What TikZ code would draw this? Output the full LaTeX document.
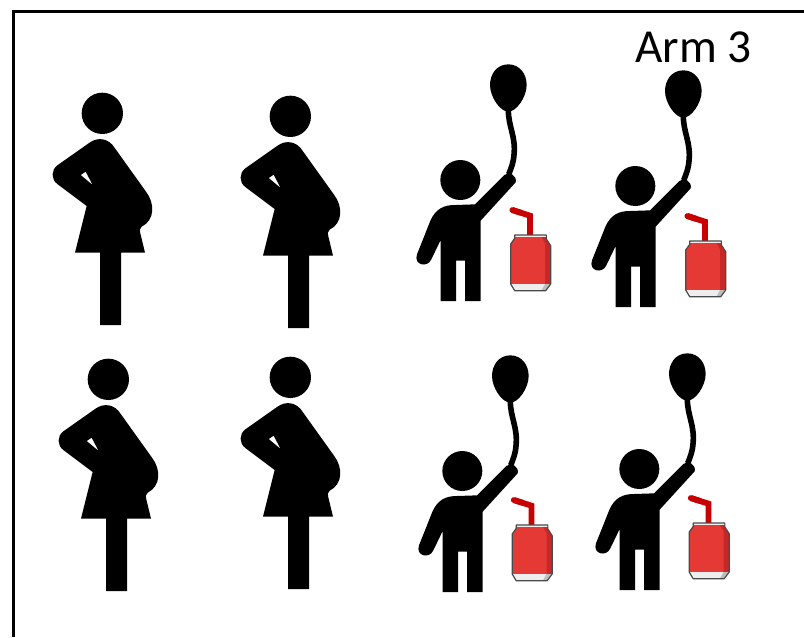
\documentclass[tikz,border=0pt]{standalone}
\usepackage{fontspec}
\setmainfont{Carlito}
\definecolor{canred}{HTML}{E53935}
\definecolor{candark}{HTML}{C62828}
\definecolor{canedge}{HTML}{4A4A4A}
\definecolor{canlight}{HTML}{EEEEEE}
\definecolor{canshade}{HTML}{BDBDBD}
\definecolor{strawred}{HTML}{C80000}
\tikzset{
  zoomed/.style={x=0.25pt,y=-0.25pt},
  woman/.pic={
    \begin{scope}[zoomed]
      \fill (187,100) circle[radius=62];
      \fill[even odd rule]
        (150,187) .. controls (172,172) and (205,172) .. (225,205)
        -- (318,335) .. controls (345,370) and (345,420) .. (305,440)
        .. controls (298,447) and (298,452) .. (301,460)
        -- (315,518) -- (243,518) -- (243,735) -- (180,735) -- (180,518) -- (105,518)
        -- (140,378) -- (52,312)
        .. controls (33,298) and (33,270) .. (52,256) -- cycle
        (122,285) -- (137,275) -- (158,315) -- cycle;
    \end{scope}
  },
  boy/.pic={
    \begin{scope}[zoomed]
      \fill (151,375) circle[radius=60];
      \fill (295,28) .. controls (330,28) and (350,58) .. (350,90)
        .. controls (350,125) and (320,170) .. (295,170)
        .. controls (270,170) and (240,125) .. (240,90)
        .. controls (240,58) and (260,28) .. (295,28) -- cycle;
      \draw[line width=4.2pt] (295,165) .. controls (295,215) and (318,245) .. (312,300)
        .. controls (310,325) and (303,340) .. (296,358);
      \fill (195,448) -- (283,360)
        .. controls (297,347) and (322,362) .. (317,382)
        -- (212,497) -- (212,738) -- (165,738) -- (165,617) -- (138,617) -- (138,738) -- (92,738)
        -- (92,555) -- (64,613)
        .. controls (52,640) and (10,630) .. (21,598)
        -- (62,495) .. controls (78,462) and (100,450) .. (135,450) -- cycle;
    \end{scope}
  },
  sodacan/.pic={
    \begin{scope}[zoomed]
      \draw[strawred,line width=4.4pt,line cap=round] (35,28) -- (60,36);
      \draw[strawred,line width=4.4pt,line join=miter] (35,28) -- (88,45) -- (88,104);
      \fill[canred] (42,103) -- (137,103) -- (137,115) -- (150,135) -- (150,250) -- (135,270)
        -- (42,270) -- (30,250) -- (30,130) -- (42,113) -- cycle;
      \fill[candark] (122,108) -- (137,108) -- (137,115) -- (150,135) -- (150,250) -- (133,250) -- (133,128) -- cycle;
      \fill[canlight] (42,103) -- (137,103) -- (137,108) -- (42,108) -- cycle;
      \fill[canlight] (30,250) -- (150,250) -- (135,270) -- (42,270) -- cycle;
      \fill[canshade] (133,250) -- (150,250) -- (135,270) -- (122,270) -- cycle;
      \draw[canedge,line width=0.9pt,line join=round] (42,103) -- (137,103) -- (137,115) -- (150,135) -- (150,250) -- (135,270)
        -- (42,270) -- (30,250) -- (30,130) -- (42,113) -- cycle;
    \end{scope}
  },
  frameline/.style={line width=2.1pt,line cap=butt},
  armlabel/.style={font=\fontsize{35.5}{36}\selectfont,anchor=base west,inner sep=0pt}
}
\begin{document}
\begin{tikzpicture}[x=0.75pt,y=-0.75pt]
  \useasboundingbox (0,0) rectangle (804,637);
  \fill[white] (0,0) rectangle (804,637);
  \draw[frameline] (13.3,637) -- (13.3,11.7) -- (804,11.7);
  \node[armlabel] (arm) at (635,62.5) {Arm 3};
  \pic at (40,80) {woman};
  \pic at (228,83) {woman};
  \pic at (46,346) {woman};
  \pic at (228,344) {woman};
  \pic at (410,55) {boy};
  \pic at (585,61) {boy};
  \pic at (412,346) {boy};
  \pic at (589,344) {boy};
  \pic at (500.7,200.7) {sodacan};
  \pic at (675.7,206.7) {sodacan};
  \pic at (502.2,490.7) {sodacan};
  \pic at (679.2,488.7) {sodacan};
\end{tikzpicture}
\end{document}
